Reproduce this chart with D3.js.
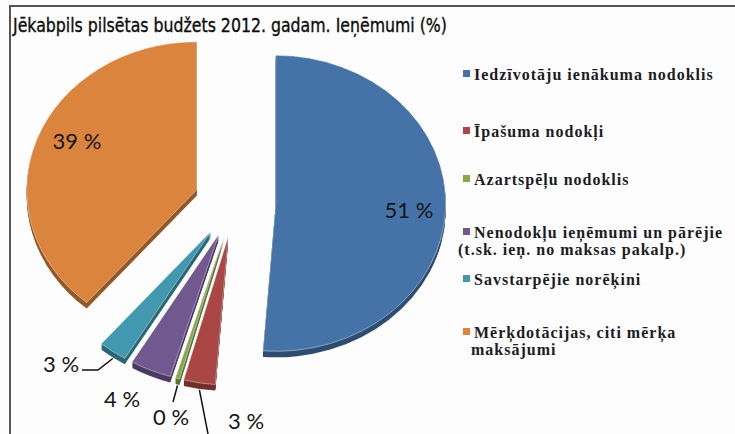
<!DOCTYPE html>
<html>
<head>
<meta charset="utf-8">
<script src="https://cdn.jsdelivr.net/npm/d3@7"></script>
<style>
  body { margin: 0; background: #fff; }
  svg { display: block; }
</style>
</head>
<body>
<script>
// categories, values and colours
const categories = [
  "Iedzīvotāju ienākuma nodoklis",
  "Īpašuma nodokļi",
  "Azartspēļu nodoklis",
  "Nenodokļu ieņēmumi un pārējie (t.sk. ieņ. no maksas pakalp.)",
  "Savstarpējie norēķini",
  "Mērķdotācijas, citi mērķa maksājumi"
];
const values = [51.2, 3.0, 0.4, 3.9, 2.7, 38.8];
const colors = ["#4572A7", "#AA4643", "#89A54E", "#71588F", "#4198AF", "#DB843D"];
const legendLines = [
  ["Iedzīvotāju ienākuma nodoklis"],
  ["Īpašuma nodokļi"],
  ["Azartspēļu nodoklis"],
  ["Nenodokļu ieņēmumi un pārējie", "(t.sk. ieņ. no maksas pakalp.)"],
  ["Savstarpējie norēķini"],
  ["Mērķdotācijas, citi mērķa", "maksājumi"]
];
const title = "Jēkabpils pilsētas budžets 2012. gadam. Ieņēmumi (%)";

// layout
const W = 735, H = 434;
const PIE = { cx: 235, cy: 202, rx: 170, ry: 148, explode: 0.24, depth: 6 };
const labelPos = [[409, 218], [246, 429], [171, 425], [122, 407], [61, 372], [77, 149]];
const leaders = [null, [[208, 434]], [[173, 402]], null, [[98, 370], [82, 370]], null];
const LEGEND = { sqX: 463, textX: 474, size: 7, rows: [80, 137, 185, 238, 285, 338], lineH: 17, wrapX: [474, 474, 474, 458, 474, 471] };

const data = values.map((v, i) => ({ name: categories[i], value: v, color: colors[i], i: i }));

const svg = d3.select("body").append("svg")
  .attr("width", W)
  .attr("height", H);

svg.append("rect").attr("width", W).attr("height", H).attr("fill", "#fdfdfe");

// frame
svg.append("path")
  .attr("d", `M10,${H} L10,6 L${W},6`)
  .attr("fill", "none")
  .attr("stroke", "#555")
  .attr("stroke-width", 2);

svg.append("text")
  .attr("x", 13)
  .attr("y", 32)
  .attr("font-family", "'DejaVu Sans Condensed', 'DejaVu Sans', sans-serif")
  .attr("font-stretch", "condensed")
  .attr("font-size", 19.5)
  .attr("textLength", 434)
  .attr("lengthAdjust", "spacingAndGlyphs")
  .attr("fill", "#0d0d0d")
  .attr("stroke", "#0d0d0d")
  .attr("stroke-width", 0.35)
  .text(title);

// pie
const k = PIE.ry / PIE.rx;
const pie = d3.pie().sort(null).value(d => d.value);
const arcs = pie(data);
const arc = d3.arc().innerRadius(0).outerRadius(PIE.rx);
const mid = d => (d.startAngle + d.endAngle) / 2;
const center = d => [
  PIE.cx + PIE.explode * PIE.rx * Math.sin(mid(d)),
  PIE.cy - PIE.explode * PIE.ry * Math.cos(mid(d))
];

// back slices first, the ones nearest the front last
const order = arcs.slice().sort((a, b) => Math.abs(mid(b) - Math.PI) - Math.abs(mid(a) - Math.PI));

const slices = svg.append("g").selectAll("g")
  .data(order)
  .join("g")
  .attr("transform", d => `translate(${center(d)})`);

slices.each(function(d) {
  const s = d3.select(this);
  const side = d3.color(d.data.color).darker(1.1);
  for (let t = PIE.depth; t >= 1; t--) {
    s.append("path")
      .attr("transform", `translate(0,${t}) scale(1,${k})`)
      .attr("d", arc(d))
      .attr("fill", side);
  }
  s.append("path")
    .attr("transform", `scale(1,${k})`)
    .attr("d", arc(d))
    .attr("fill", d.data.color)
    .attr("stroke", "#fff")
    .attr("stroke-opacity", 0.5)
    .attr("stroke-width", 0.8)
    .attr("vector-effect", "non-scaling-stroke");
});

// leader lines
arcs.forEach((d, i) => {
  if (!leaders[i]) return;
  const c = center(d);
  const start = [c[0] + PIE.rx * Math.sin(mid(d)), c[1] - PIE.ry * Math.cos(mid(d)) + PIE.depth + 1];
  svg.append("path")
    .attr("d", d3.line()([start].concat(leaders[i])))
    .attr("fill", "none")
    .attr("stroke", "#111")
    .attr("stroke-width", 1.5);
});

// data labels
svg.append("g").selectAll("text")
  .data(arcs)
  .join("text")
  .attr("x", (d, i) => labelPos[i][0])
  .attr("y", (d, i) => labelPos[i][1])
  .attr("text-anchor", "middle")
  .attr("font-family", "Lato, 'Open Sans', sans-serif")
  .attr("font-size", 22)
  .attr("fill", "#151515")
  .text(d => Math.round(d.data.value) + " %");

// legend
const leg = svg.append("g").selectAll("g")
  .data(data)
  .join("g");

leg.append("rect")
  .attr("x", LEGEND.sqX)
  .attr("y", (d, i) => LEGEND.rows[i] - 10)
  .attr("width", LEGEND.size)
  .attr("height", LEGEND.size)
  .attr("fill", d => d.color);

leg.each(function(d, i) {
  const t = d3.select(this).append("text")
    .attr("font-family", "'Liberation Serif', 'Times New Roman', serif")
    .attr("font-weight", "bold")
    .attr("font-size", 16)
    .attr("letter-spacing", 1)
    .attr("fill", "#1c1c24");
  legendLines[i].forEach((line, j) => {
    t.append("tspan")
      .attr("x", j === 0 ? LEGEND.textX : LEGEND.wrapX[i])
      .attr("y", LEGEND.rows[i] + j * LEGEND.lineH)
      .text(line);
  });
});
</script>
</body>
</html>
